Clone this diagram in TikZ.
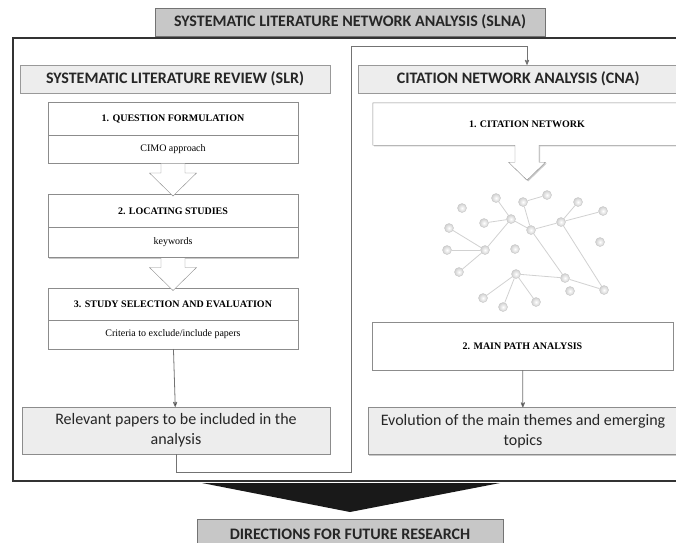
\documentclass[tikz,border=0pt]{standalone}
\usepackage{fontspec}
\setmainfont{Liberation Serif}
\setsansfont{Carlito}
\usetikzlibrary{arrows,shadows,calc,positioning}

\begin{document}
\begin{tikzpicture}[x=1pt, y=-1pt, >=stealth',
                    softshadow/.style={drop shadow={shadow xshift=1.2pt, shadow yshift=-1.2pt, opacity=0.35, fill=black!60}},
                    title/.style={rectangle, minimum width=390pt, minimum height=28pt, text centered, draw=black!55, fill=black!22, text=black!85, font=\sffamily\bfseries\fontsize{16}{18}\selectfont, softshadow},
                    header/.style={rectangle, minimum height=28pt, text centered, draw=black!40, fill=black!7, text=black!85, font=\sffamily\bfseries\fontsize{16}{18}\selectfont},
                    stepbox/.style={rectangle, outer sep=0pt, minimum width=250pt, minimum height=33pt, text centered, draw=black!45, fill=white, font=\bfseries\fontsize{10}{12}\selectfont, softshadow},
                    detail/.style={rectangle, outer sep=0pt, minimum width=250pt, minimum height=28pt, text centered, draw=black!45, fill=white, font=\fontsize{10}{12}\selectfont, softshadow},
                    result/.style={rectangle, minimum height=47pt, align=center, draw=black!45, fill=black!7, text=black!85, font=\sffamily\fontsize{16}{20}\selectfont, softshadow},
                    hollow/.style={draw=black!45, fill=white, line join=miter},
                    flow/.style={->, draw=black!55, line width=0.8pt, shorten >=0pt},
                    paper/.style={circle, inner sep=0pt, minimum size=9pt, draw=black!22, line width=0.4pt, inner color=white, outer color=black!18},
                    link/.style={draw=black!18, line width=0.8pt}]
        \clip (0,0) rectangle (676,542);
        \fill[white] (0,0) rectangle (676,542);

        % outer frame
        \draw[line width=1.6pt, draw=black!80] (13,38) rectangle (700,481);
        \node (Slna) [title] at (350,22) {SYSTEMATIC LITERATURE NETWORK ANALYSIS (SLNA)};

        % left column
        \node (SlrHead) [header, minimum width=310pt] at (175,79) {SYSTEMATIC LITERATURE REVIEW (SLR)};
        \node (Question) [stepbox] at (173,118.5) {1. QUESTION FORMULATION};
        \node (Cimo) [detail, below=0pt of Question] {CIMO approach};
        \node (Locating) [stepbox] at (173,211) {2. LOCATING STUDIES};
        \node (Keywords) [detail, below=0pt of Locating, minimum height=30pt] {keywords};
        \node (Selection) [stepbox, minimum height=32pt] at (173,304) {3. STUDY SELECTION AND EVALUATION};
        \node (Criteria) [detail, below=0pt of Selection, minimum height=29pt] {Criteria to exclude/include papers};
        \node (Relevant) [result, minimum width=308pt] at (176,430.5) {Relevant papers to be included in the\\analysis};

        \draw[hollow] ($(Cimo.south)+(-12,0.6)$) -- ($(Cimo.south)+(-12,10)$) -- ($(Cimo.south)+(-23.5,10)$)
            -- ($(Cimo.south)+(0,33)$) -- ($(Cimo.south)+(23.5,10)$) -- ($(Cimo.south)+(12,10)$) -- ($(Cimo.south)+(12,0.6)$);
        \draw[hollow] ($(Keywords.south)+(-12,0.6)$) -- ($(Keywords.south)+(-12,10)$) -- ($(Keywords.south)+(-23.5,10)$)
            -- ($(Keywords.south)+(0,33)$) -- ($(Keywords.south)+(23.5,10)$) -- ($(Keywords.south)+(12,10)$) -- ($(Keywords.south)+(12,0.6)$);

        % right column
        \node (CnaHead) [header, minimum width=320pt, anchor=west] at (358,79) {CITATION NETWORK ANALYSIS (CNA)};
        \node (Citation) [rectangle, minimum width=308pt, minimum height=42pt] at (527,124) {};
        \draw[hollow, softshadow] (Citation.north west) -- (Citation.north east) -- (Citation.south east)
            -- ($(Citation.south)+(12,0)$) -- ($(Citation.south)+(12,17)$) -- ($(Citation.south)+(18.5,17)$)
            -- ($(Citation.south)+(0,35)$) -- ($(Citation.south)+(-18.5,17)$) -- ($(Citation.south)+(-12,17)$)
            -- ($(Citation.south)+(-12,0)$) -- (Citation.south west) -- cycle;
        \node [font=\bfseries\fontsize{10}{12}\selectfont] at (Citation) {1. CITATION NETWORK};
        \node (MainPath) [stepbox, minimum width=301pt, minimum height=48pt] at (522.5,346) {2. MAIN PATH ANALYSIS};
        \node (Evolution) [result, minimum width=310pt] at (523,431) {Evolution of the main themes and emerging\\topics};

        % citation network
        \node (p1) [paper] at (496,198) {};
        \node (p2) [paper] at (523,202) {};
        \node (p3) [paper] at (547,195) {};
        \node (p4) [paper] at (578,202) {};
        \node (p5) [paper] at (462,208) {};
        \node (p6) [paper] at (603,211) {};
        \node (p7) [paper] at (511,219) {};
        \node (p8) [paper] at (484,223) {};
        \node (p9) [paper] at (561,222) {};
        \node (p10) [paper] at (449,228) {};
        \node (p11) [paper] at (531,230) {};
        \node (p12) [paper] at (600,242) {};
        \node (p13) [paper] at (485,250) {};
        \node (p14) [paper] at (515,249) {};
        \node (p15) [paper] at (447,250) {};
        \node (p16) [paper] at (459,272) {};
        \node (p17) [paper] at (516,274) {};
        \node (p18) [paper] at (565,278) {};
        \node (p19) [paper] at (570,291) {};
        \node (p20) [paper] at (604,290) {};
        \node (p21) [paper] at (483,298) {};
        \node (p22) [paper] at (536,302) {};
        \node (p23) [paper] at (503,307) {};

        \path[link]
        (p1) edge (p7)
        (p2) edge (p3)
        (p2) edge (p11)
        (p8) edge (p7)
        (p7) edge (p11)
        (p7) edge (p13)
        (p11) edge (p9)
        (p9) edge (p4)
        (p9) edge (p6)
        (p10) edge (p13)
        (p15) edge (p13)
        (p16) edge (p13)
        (p11) edge (p18)
        (p9) edge (p20)
        (p17) edge (p18)
        (p18) edge (p20)
        (p17) edge (p21)
        (p17) edge (p23)
        (p17) edge (p22)
        ;

        % connectors
        \coordinate (LowBend) at (351,472);
        \coordinate (TopBend) at (351,46);
        \path[flow]
        (Criteria)
            edge (Relevant)
        (MainPath)
            edge (Evolution)
        ;
        \draw[flow] (Relevant.south) |- (LowBend) -- (TopBend) -| (Citation.south |- CnaHead.north);

        % bottom
        \node (Future) [title, minimum width=306pt, minimum height=30pt] at (350,534) {DIRECTIONS FOR FUTURE RESEARCH};
        \coordinate (WedgeLeft) at (202,483);
        \coordinate (WedgeRight) at (500,483);
        \coordinate (WedgeTip) at (350,512);
        \fill[black!90] (WedgeLeft) -- (WedgeRight) -- (WedgeTip) -- cycle;
\end{tikzpicture}
\end{document}
